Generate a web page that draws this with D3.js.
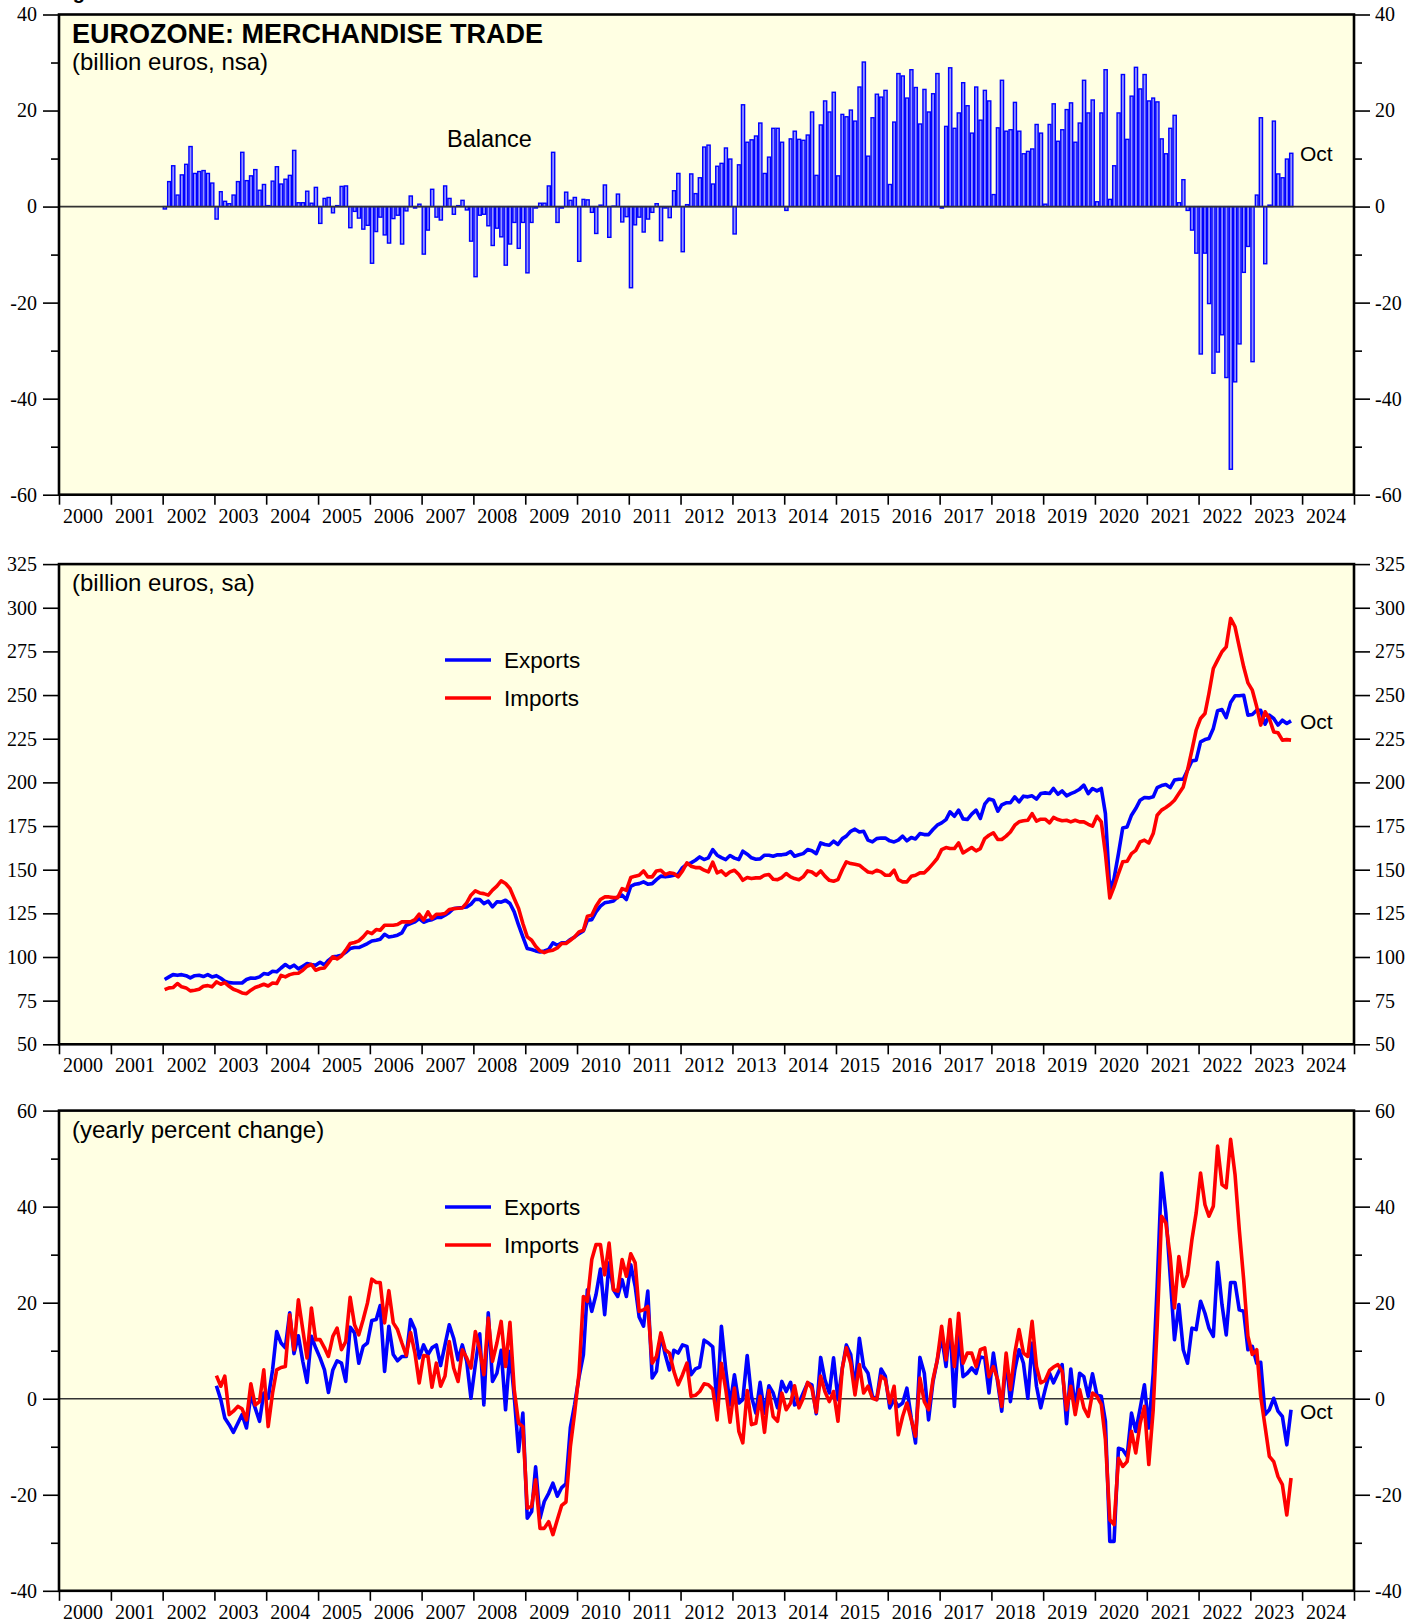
<!DOCTYPE html>
<html>
<head>
<meta charset="utf-8">
<script src="https://cdn.jsdelivr.net/npm/d3@7"></script>
<style>
body { margin: 0; background: #fff; }
.axis text { font-family: "Liberation Serif", "Times New Roman", serif; font-size: 20px; fill: #000; }
.axis path { display: none; }
.axis line { stroke: #000; stroke-width: 1.6; }
.lbl { font-family: "Liberation Sans", Arial, sans-serif; fill: #000; }
</style>
</head>
<body>
<div id="chart"></div>
<script>
// monthly data, balance & levels start Jan 2002, yoy starts Jan 2003
const levelStart = [2002, 0];
const yoyStart = [2003, 0];

// trade balance, billion euros, nsa
const balance = [
  -0.5, 5.2, 8.5, 2.4, 6.6, 8.8, 12.5, 6.9, 7.3, 7.5, 6.9, 4.9,
  -2.6, 3.1, 1.1, 0.6, 2.4, 5.2, 11.3, 5.4, 6.4, 7.7, 3.4, 4.6,
  0.2, 5.3, 8.3, 4.7, 5.7, 6.5, 11.7, 0.8, 0.8, 3.2, 0.7, 4.0,
  -3.5, 1.7, 1.9, -1.3, 0.2, 4.2, 4.3, -4.4, -1.0, -2.4, -4.7, -3.9,
  -11.8, -5.2, -2.2, -5.9, -7.6, -2.5, -1.8, -7.8, -0.9, 2.2, -0.3, 0.5,
  -9.9, -4.9, 3.6, -2.2, -2.8, 4.3, 1.7, -1.6, 0.2, 1.3, -0.7, -7.2,
  -14.6, -1.8, -1.6, -4.0, -8.1, -4.5, -6.3, -12.2, -7.8, -3.3, -8.7, -3.3,
  -13.8, -3.3, -0.3, 0.7, 0.7, 4.3, 11.3, -3.3, -0.3, 3.0, 1.3, 1.9,
  -11.4, 1.5, 1.4, -1.2, -5.6, 0.3, 4.5, -6.4, 0.1, 2.6, -3.2, -2.1,
  -16.9, -3.8, -2.2, -5.3, -2.6, -1.2, 0.6, -7.1, -0.3, -2.3, 3.3, 6.9,
  -9.4, 0.4, 6.8, 2.7, 6.0, 12.4, 12.8, 4.7, 8.4, 9.0, 12.2, 9.9,
  -5.7, 8.7, 21.2, 13.4, 13.9, 14.7, 17.4, 6.9, 10.3, 16.3, 16.3, 13.4,
  -0.8, 14.1, 15.7, 14.0, 13.8, 14.9, 19.7, 6.5, 17.0, 22.0, 19.7, 23.8,
  6.4, 19.2, 18.7, 20.1, 17.8, 24.9, 30.1, 10.5, 18.5, 23.4, 22.8, 24.2,
  4.6, 17.6, 27.7, 27.2, 22.6, 28.5, 24.8, 17.2, 24.4, 19.7, 23.5, 27.7,
  -0.3, 16.7, 28.9, 16.3, 19.5, 25.8, 21.0, 15.3, 24.9, 18.0, 24.2, 22.0,
  2.5, 16.4, 26.3, 15.7, 16.0, 21.7, 15.7, 11.0, 11.5, 12.0, 17.1, 15.3,
  0.5, 17.1, 21.4, 13.6, 16.0, 20.2, 21.6, 13.4, 17.4, 26.3, 19.5, 22.2,
  1.0, 19.5, 28.5, 1.5, 8.5, 19.5, 27.5, 14.0, 23.0, 29.0, 24.5, 27.5,
  22.0, 22.6, 21.8, 14.1, 11.0, 16.3, 19.0, 0.8, 5.6, -0.8, -4.9, -9.7,
  -30.7, -9.7, -20.2, -34.7, -30.3, -26.7, -35.6, -54.7, -36.5, -28.6, -13.7, -8.3,
  -32.3, 2.4, 18.5, -11.9, 0.3, 17.8, 6.8, 6.0, 9.9, 11.1
];

// exports, billion euros, sa
const exportsLevel = [
  87.1, 88.6, 89.9, 89.5, 89.9, 89.3, 88.0, 89.3, 89.5, 88.8, 89.9, 88.6,
  89.3, 87.8, 86.1, 85.3, 85.1, 85.1, 85.1, 87.1, 88.0, 87.8, 88.6, 90.5,
  90.1, 91.8, 91.5, 93.7, 95.7, 93.9, 95.3, 93.2, 94.7, 96.2, 95.7, 95.3,
  97.0, 95.5, 98.1, 100.1, 100.4, 101.0, 102.7, 104.8, 105.4, 105.4, 106.5, 107.7,
  109.2, 109.6, 110.2, 113.0, 111.5, 111.9, 112.5, 113.8, 118.2, 119.2, 120.1, 122.0,
  119.9, 120.9, 121.4, 122.6, 122.6, 123.9, 125.5, 127.8, 128.1, 128.3, 128.7, 130.2,
  133.1, 132.9, 130.6, 132.0, 128.7, 131.6, 131.4, 132.5, 130.6, 125.8, 118.2, 111.5,
  104.8, 104.3, 103.5, 102.9, 103.5, 104.3, 108.1, 106.7, 108.1, 108.1, 110.0, 111.5,
  113.4, 114.9, 121.0, 121.4, 125.8, 129.1, 131.0, 131.5, 132.1, 134.4, 135.4, 132.9,
  140.5, 141.7, 142.0, 143.0, 141.7, 142.0, 144.3, 146.3, 145.9, 146.3, 146.8, 147.4,
  151.2, 153.1, 153.9, 155.4, 157.3, 155.8, 156.8, 161.5, 158.3, 156.9, 155.8, 158.1,
  156.6, 155.8, 160.6, 158.9, 156.8, 156.0, 156.2, 158.3, 158.3, 157.7, 158.5, 158.5,
  158.9, 160.4, 157.7, 158.5, 159.2, 161.5, 160.8, 159.2, 165.3, 164.4, 164.0, 166.3,
  164.4, 167.8, 169.2, 172.0, 173.2, 171.6, 172.0, 166.9, 165.9, 167.8, 168.1, 168.1,
  166.5, 165.9, 166.9, 169.2, 166.5, 168.4, 167.6, 170.7, 170.1, 170.1, 173.0, 175.5,
  176.8, 178.7, 183.1, 180.6, 184.1, 179.1, 178.7, 181.8, 184.1, 179.3, 187.5, 190.5,
  189.8, 183.5, 187.1, 188.3, 188.3, 191.7, 188.8, 192.1, 191.7, 192.3, 190.4, 193.6,
  194.0, 193.6, 196.5, 193.2, 195.1, 192.3, 193.6, 194.6, 196.1, 198.4, 193.6, 196.5,
  195.1, 196.5, 182.1, 138.0, 144.9, 159.2, 173.9, 174.5, 181.2, 185.0, 189.8, 191.3,
  191.1, 191.7, 197.0, 198.2, 198.8, 197.0, 201.3, 201.8, 201.8, 207.0, 212.3, 212.7,
  223.2, 224.5, 225.1, 230.9, 241.0, 241.7, 237.1, 245.7, 249.6, 249.6, 249.9, 238.5,
  238.9, 241.3, 241.3, 233.3, 238.5, 236.6, 232.8, 235.6, 233.7, 235.2
];

// imports, billion euros, sa
const importsLevel = [
  81.3, 82.3, 82.5, 84.8, 82.9, 82.3, 80.6, 81.0, 81.5, 83.2, 83.6, 82.9,
  85.7, 84.4, 85.3, 83.2, 81.5, 80.6, 79.4, 79.0, 81.0, 82.5, 83.4, 84.4,
  83.4, 85.1, 84.8, 89.5, 88.6, 89.9, 90.5, 90.7, 92.4, 94.7, 95.7, 92.4,
  93.4, 93.7, 96.6, 100.1, 98.9, 100.6, 103.9, 107.7, 108.3, 109.2, 111.5, 114.4,
  113.4, 115.7, 115.3, 118.2, 118.2, 118.2, 118.6, 120.1, 120.1, 120.1, 121.4, 124.5,
  121.1, 125.8, 122.0, 124.5, 124.5, 124.9, 127.2, 127.6, 127.9, 128.1, 131.0, 135.4,
  137.9, 136.7, 136.3, 135.4, 138.3, 140.6, 143.6, 142.1, 139.2, 133.5, 127.8, 119.2,
  111.5, 109.6, 106.1, 103.5, 102.5, 103.5, 103.9, 105.2, 107.7, 107.7, 109.6, 111.5,
  114.4, 115.3, 123.3, 123.9, 129.1, 132.9, 134.4, 134.4, 134.0, 134.0, 139.2, 138.2,
  145.5, 146.3, 146.8, 149.3, 145.9, 145.9, 149.3, 149.7, 147.2, 148.2, 147.8, 145.9,
  149.3, 153.9, 152.0, 151.2, 151.2, 149.7, 148.7, 154.3, 148.2, 149.3, 146.8, 148.7,
  149.7, 147.2, 143.9, 145.5, 144.9, 145.3, 145.3, 146.8, 147.2, 144.5, 144.3, 145.5,
  147.8, 145.9, 144.9, 144.3, 145.9, 149.3, 148.7, 146.8, 149.3, 146.3, 143.9, 143.4,
  144.3, 150.1, 154.5, 153.5, 153.1, 152.6, 150.6, 148.7, 148.2, 149.7, 148.7, 146.8,
  146.8, 149.7, 144.3, 143.0, 143.0, 146.2, 146.8, 148.2, 148.2, 150.6, 153.5, 156.4,
  161.5, 162.7, 162.1, 162.1, 165.3, 159.6, 161.1, 162.7, 160.8, 162.1, 167.8, 169.7,
  171.1, 167.3, 167.3, 169.2, 171.6, 175.5, 177.4, 178.0, 178.3, 182.1, 177.8, 178.9,
  178.9, 176.8, 179.9, 178.7, 178.0, 178.3, 177.4, 178.3, 177.4, 177.4, 176.0, 174.9,
  180.6, 177.4, 159.2, 133.8, 140.1, 147.8, 154.5, 154.8, 159.2, 161.1, 165.9, 166.9,
  165.3, 170.7, 181.2, 184.1, 185.6, 187.5, 189.8, 193.6, 197.4, 207.0, 218.4, 229.9,
  236.6, 239.4, 250.9, 265.2, 270.0, 274.8, 277.6, 293.9, 289.1, 277.6, 266.2, 257.0,
  252.8, 243.3, 232.8, 240.4, 236.6, 228.9, 228.4, 224.2, 224.5, 224.2
];

// exports, yearly percent change
const exportsYoy = [
  2.7, -0.2, -4.0, -5.4, -7.0, -5.1, -3.3, -6.1, 0.8, -1.9, -4.7, 1.2,
  0.1, 6.0, 14.0, 11.6, 10.6, 17.9, 9.4, 13.1, 7.8, 3.4, 13.0, 10.6,
  8.5, 6.0, 1.3, 6.0, 7.9, 7.4, 3.6, 14.9, 13.7, 7.4, 10.9, 11.6,
  16.3, 16.5, 19.4, 5.7, 15.1, 9.2, 7.9, 8.8, 8.8, 16.5, 14.4, 8.5,
  11.2, 9.2, 10.6, 11.2, 6.9, 11.2, 15.4, 12.6, 8.1, 11.2, 7.8, 0.1,
  7.1, 13.5, -1.3, 17.9, 3.6, 5.3, 10.1, -2.3, 9.9, 0.5, -11.0, -3.0,
  -24.9, -23.5, -14.2, -24.9, -21.4, -19.7, -17.6, -20.3, -18.5, -17.7, -6.0, -1.2,
  4.5, 9.2, 22.7, 18.2, 21.7, 27.0, 17.5, 28.3, 22.7, 21.3, 24.8, 21.3,
  27.9, 23.4, 17.0, 15.1, 22.4, 4.3, 5.7, 13.3, 9.2, 6.0, 10.1, 9.5,
  11.2, 10.9, 5.0, 6.2, 6.6, 12.2, 11.6, 10.8, -1.9, 15.1, 6.0, -1.3,
  5.0, -0.9, -0.2, 9.0, 0.5, -3.0, 3.4, -3.0, 2.7, 1.2, -1.9, 3.6,
  1.5, 3.4, -1.3, -0.9, 1.2, 3.3, 2.9, -3.1, 8.6, 4.0, 1.2, 8.5,
  -0.2, 6.4, 11.2, 9.2, 1.9, 12.6, 6.7, 5.3, 0.5, -0.2, 6.2, 4.7,
  -1.9, -0.2, -1.6, -0.9, 2.2, -4.0, -9.2, 8.6, 5.3, -4.4, 3.5, 8.0,
  13.0, 6.7, 15.8, -1.6, 13.7, 4.6, 5.3, 6.4, 5.3, 8.7, 8.5, 1.2,
  9.5, 3.3, -2.6, 8.1, -0.6, 6.0, 10.2, 7.4, 0.1, 11.6, 2.6, -1.9,
  1.9, 5.3, 3.3, 5.3, 7.1, -5.2, 6.2, -2.3, 5.3, 4.6, 0.5, 5.2,
  0.8, 0.5, -4.7, -29.7, -29.7, -10.3, -10.6, -12.0, -3.0, -6.8, -2.0, 2.9,
  -6.1, 5.3, 23.4, 47.0, 38.7, 25.5, 12.3, 19.6, 10.2, 7.4, 14.7, 14.4,
  20.3, 17.8, 14.7, 13.0, 28.4, 19.6, 13.3, 24.2, 24.2, 18.5, 18.2, 10.2,
  10.9, 7.4, 7.6, -3.3, -2.3, 0.1, -2.6, -3.7, -9.6, -2.3
];

// imports, yearly percent change
const importsYoy = [
  4.8, 2.6, 4.7, -3.3, -2.6, -1.6, -2.1, -4.4, 3.1, -1.3, -0.6, 6.0,
  -5.8, 1.2, 6.0, 6.5, 6.7, 17.5, 10.2, 20.6, 14.4, 8.5, 18.9, 12.3,
  12.3, 10.6, 8.8, 13.0, 14.7, 10.2, 11.9, 21.1, 15.4, 13.3, 16.5, 19.9,
  24.9, 24.2, 24.2, 15.8, 22.5, 15.8, 14.4, 11.6, 9.0, 13.8, 9.5, 3.3,
  9.0, 8.8, 2.4, 7.4, 2.6, 4.7, 11.9, 6.4, 3.6, 10.2, 8.5, 6.4,
  14.0, 10.2, 5.0, 16.8, 7.8, 11.6, 16.1, 6.7, 15.9, 1.9, -5.1, -5.8,
  -22.8, -22.4, -16.9, -27.0, -27.0, -25.6, -28.3, -25.2, -22.2, -21.5, -10.0, -3.0,
  5.3, 21.3, 20.3, 29.0, 32.1, 32.1, 25.8, 32.4, 22.7, 22.4, 29.0, 25.5,
  30.2, 28.3, 18.2, 18.5, 19.2, 7.4, 8.8, 13.7, 10.2, 9.5, 5.7, 2.9,
  5.0, 7.4, 0.5, 0.7, 1.5, 3.1, 2.9, 2.0, -4.4, 7.4, 1.9, -4.9,
  2.2, -6.8, -9.2, 1.7, -5.4, -5.1, 0.5, -7.0, 1.7, -3.7, -4.7, 1.2,
  -2.3, -0.9, 2.7, -1.9, 0.1, 3.4, 2.2, -2.8, 4.7, 1.5, -0.6, 1.5,
  -4.7, 6.4, 10.6, 7.4, 0.8, 7.1, 1.2, 2.6, 0.1, -0.2, 4.7, 4.0,
  -0.9, 2.6, -7.5, -3.7, -0.9, -4.4, -7.8, 4.3, -0.6, -2.3, 4.0, 8.0,
  15.1, 8.1, 16.5, 6.7, 17.8, 7.4, 9.5, 9.5, 6.7, 10.2, 10.6, 4.6,
  6.7, 3.9, -1.6, 9.5, 1.9, 9.5, 14.4, 9.5, 8.8, 16.1, 6.7, 3.3,
  3.8, 5.9, 6.6, 7.1, 5.7, -2.3, 2.6, -3.3, 1.9, -1.9, -3.7, 1.2,
  0.5, -1.2, -8.5, -25.2, -26.2, -12.4, -14.1, -13.1, -6.8, -11.3, -5.1, -1.6,
  -13.7, -2.3, 15.1, 38.0, 36.6, 29.6, 18.9, 29.6, 23.4, 25.8, 33.1, 38.7,
  47.0, 40.4, 38.0, 40.1, 52.6, 44.6, 43.9, 54.0, 46.7, 35.2, 24.8, 13.0,
  9.2, 10.2, 0.5, -5.8, -12.0, -13.1, -16.2, -17.9, -24.2, -16.5
];

const years = d3.range(2000, 2025);
const balTicks = [-60, -40, -20, 0, 20, 40];
const balMinor = [-50, -30, -10, 10, 30];
const levelTicks = d3.range(50, 326, 25);
const yoyTicks = [-40, -20, 0, 20, 40, 60];
const yoyMinor = [-30, -10, 10, 30, 50];

const width = 1421, height = 1623;
const left = 59, right = 1354;
const panels = [
  {top: 14.5, bottom: 494.7},
  {top: 564.1, bottom: 1044.3},
  {top: 1110.6, bottom: 1590.8}
];

const svg = d3.select("#chart").append("svg")
    .attr("width", width)
    .attr("height", height);

const x = d3.scaleTime()
    .domain([new Date(2000, 0, 1), new Date(2025, 0, 1)])
    .range([left, right]);

const monthOf = (start, i, day) => new Date(start[0], start[1] + i, day);
const plain = d => String(d);   // hyphen minus, like the original

// figure caption, cropped at the top edge in the original
svg.append("text").attr("class", "lbl")
    .attr("x", 55).attr("y", -1)
    .style("font-size", "20px").style("font-weight", "bold")
    .text("Figure 1.");

function frame(p, y, majors, minors) {
    const g = svg.append("g");
    g.append("rect")
        .attr("x", left).attr("y", p.top)
        .attr("width", right - left).attr("height", p.bottom - p.top)
        .attr("fill", "#ffffe3");

    const axes = svg.append("g").attr("class", "axes");
    axes.append("g").attr("class", "axis")
        .attr("transform", `translate(${left},0)`)
        .call(d3.axisLeft(y).tickValues(majors).tickSize(16).tickPadding(6).tickFormat(plain));
    axes.append("g").attr("class", "axis")
        .attr("transform", `translate(${right},0)`)
        .call(d3.axisRight(y).tickValues(majors).tickSize(16).tickPadding(5).tickFormat(plain));
    if (minors.length) {
        axes.append("g").attr("class", "axis")
            .attr("transform", `translate(${left},0)`)
            .call(d3.axisLeft(y).tickValues(minors).tickSize(8).tickFormat(""));
        axes.append("g").attr("class", "axis")
            .attr("transform", `translate(${right},0)`)
            .call(d3.axisRight(y).tickValues(minors).tickSize(8).tickFormat(""));
    }
    axes.append("g").attr("class", "axis")
        .attr("transform", `translate(0,${p.bottom})`)
        .call(d3.axisBottom(x).ticks(d3.timeYear.every(1)).tickSize(10).tickFormat(""));
    axes.selectAll(".yr").data(years).enter().append("text")
        .attr("class", "yr")
        .attr("x", d => x(new Date(d, 0, 1)) + 4)
        .attr("y", p.bottom + 28)
        .style("font-family", '"Liberation Serif", "Times New Roman", serif')
        .style("font-size", "20px")
        .text(d => d);
    return {g, axes};
}

function border(p) {
    svg.append("rect")
        .attr("x", left).attr("y", p.top)
        .attr("width", right - left).attr("height", p.bottom - p.top)
        .attr("fill", "none").attr("stroke", "#000").attr("stroke-width", 2.6);
}

function zeroLine(g, y) {
    g.append("line")
        .attr("x1", left).attr("x2", right)
        .attr("y1", y(0)).attr("y2", y(0))
        .attr("stroke", "#333").attr("stroke-width", 1.6);
}

function label(txt, xx, yy, size, opts = {}) {
    return svg.append("text").attr("class", "lbl")
        .attr("x", xx).attr("y", yy)
        .style("font-size", size + "px")
        .style("font-weight", opts.bold ? "bold" : "normal")
        .attr("fill", opts.color || "#000")
        .text(txt);
}

function legend(yTop, gap) {
    [["Exports", "#0000ff"], ["Imports", "#ff0000"]].forEach((d, i) => {
        const yy = yTop + i * gap;
        svg.append("line")
            .attr("x1", 445).attr("x2", 491)
            .attr("y1", yy).attr("y2", yy)
            .attr("stroke", d[1]).attr("stroke-width", 3.6);
        label(d[0], 504, yy + 8, 22.5);
    });
}

// ---- panel 1: balance bars
const y1 = d3.scaleLinear().domain([-60, 40]).range([panels[0].bottom, panels[0].top]);
const f1 = frame(panels[0], y1, balTicks, balMinor);
f1.g.selectAll(".bar")
    .data(balance)
    .enter().append("rect")
    .attr("class", "bar")
    .attr("x", (d, i) => x(monthOf(levelStart, i, 1)) + 0.6)
    .attr("width", (d, i) => x(monthOf(levelStart, i + 1, 1)) - x(monthOf(levelStart, i, 1)) - 1.2)
    .attr("y", d => y1(Math.max(0, d)))
    .attr("height", d => Math.abs(y1(d) - y1(0)))
    .style("fill", "#9494ff")
    .style("stroke", "#0000ff")
    .style("stroke-width", 1.4);
zeroLine(f1.g, y1);
border(panels[0]);
label("EUROZONE: MERCHANDISE TRADE", 72, 43, 27, {bold: true});
label("(billion euros, nsa)", 72, 70, 24);
label("Balance", 447, 147, 23.5);
label("Oct", 1300, 161, 21, {color: "#0000ff"});

// ---- panel 2: levels
const y2 = d3.scaleLinear().domain([50, 325]).range([panels[1].bottom, panels[1].top]);
const f2 = frame(panels[1], y2, levelTicks, []);
const line2 = d3.line()
    .x((d, i) => x(monthOf(levelStart, i, 15)))
    .y(d => y2(d));
f2.g.append("path").datum(exportsLevel)
    .attr("d", line2).attr("fill", "none")
    .attr("stroke", "#0000ff").attr("stroke-width", 3.6).attr("stroke-linejoin", "round");
f2.g.append("path").datum(importsLevel)
    .attr("d", line2).attr("fill", "none")
    .attr("stroke", "#ff0000").attr("stroke-width", 3.6).attr("stroke-linejoin", "round");
border(panels[1]);
label("(billion euros, sa)", 72, 591, 24);
legend(660, 38);
label("Oct", 1300, 729, 21, {color: "#0000ff"});

// ---- panel 3: yearly percent change
const y3 = d3.scaleLinear().domain([-40, 60]).range([panels[2].bottom, panels[2].top]);
const f3 = frame(panels[2], y3, yoyTicks, yoyMinor);
zeroLine(f3.g, y3);
const line3 = d3.line()
    .x((d, i) => x(monthOf(yoyStart, i, 15)))
    .y(d => y3(d));
f3.g.append("path").datum(exportsYoy)
    .attr("d", line3).attr("fill", "none")
    .attr("stroke", "#0000ff").attr("stroke-width", 3.6).attr("stroke-linejoin", "round");
f3.g.append("path").datum(importsYoy)
    .attr("d", line3).attr("fill", "none")
    .attr("stroke", "#ff0000").attr("stroke-width", 3.6).attr("stroke-linejoin", "round");
border(panels[2]);
label("(yearly percent change)", 72, 1138, 24);
legend(1207, 38);
label("Oct", 1300, 1419, 21, {color: "#0000ff"});
</script>
</body>
</html>
